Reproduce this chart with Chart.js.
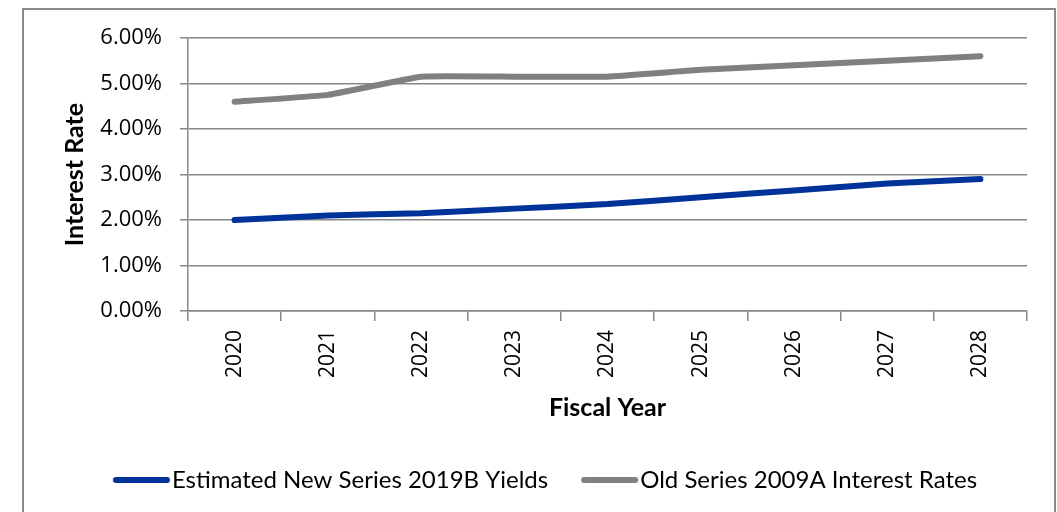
<!DOCTYPE html>
<html>
<head>
<meta charset="utf-8">
<script src="https://cdn.jsdelivr.net/npm/chart.js@4/dist/chart.umd.min.js"></script>
<style>
  html, body { margin: 0; padding: 0; background: #fff; }
  canvas { display: block; }
</style>
</head>
<body>
<canvas id="grafico" width="1057" height="512"></canvas>
<script>
'use strict';
// dados do grafico
const anos = ['2020', '2021', '2022', '2023', '2024', '2025', '2026', '2027', '2028'];
const novaSerie = [2.00, 2.10, 2.15, 2.25, 2.35, 2.50, 2.65, 2.80, 2.90];
const serieAntiga = [4.60, 4.75, 5.15, 5.15, 5.15, 5.30, 5.40, 5.50, 5.60];
const nomesSeries = ['Estimated New Series 2019B Yields', 'Old Series 2009A Interest Rates'];
const yTicks = [0, 1, 2, 3, 4, 5, 6];

const cinza = '#878787';
const azul = '#003399';
const cinzaLinha = '#808080';

// amostra da legenda: linha grossa encostada no texto
function amostra(cor) {
    const cv = document.createElement('canvas');
    cv.width = 94;
    cv.height = 10;
    const c = cv.getContext('2d');
    c.strokeStyle = cor;
    c.lineWidth = 6;
    c.lineCap = 'round';
    c.beginPath();
    c.moveTo(38, 5);
    c.lineTo(89, 5);
    c.stroke();
    return cv;
}

// moldura externa do grafico
const moldura = {
    id: 'moldura',
    beforeDraw(chart) {
        const c = chart.ctx;
        c.save();
        c.fillStyle = '#fff';
        c.fillRect(0, 0, chart.width, chart.height);
        c.strokeStyle = '#8a8a8a';
        c.lineWidth = 2;
        c.strokeRect(23, 9, 1032, 520);
        c.restore();
    }
};

Chart.defaults.color = '#000';

const ctx = document.getElementById('grafico').getContext('2d');
const myChart = new Chart(ctx, {
    type: 'line',
    plugins: [moldura],
    data: {
        labels: anos,
        datasets: [{
            label: nomesSeries[0],
            data: novaSerie,
            borderColor: azul,
            backgroundColor: azul,
            borderWidth: 6,
            borderCapStyle: 'round',
            pointRadius: 0,
            pointStyle: amostra(azul),
            tension: 0.1
        }, {
            label: nomesSeries[1],
            data: serieAntiga,
            borderColor: cinzaLinha,
            backgroundColor: cinzaLinha,
            borderWidth: 6,
            borderCapStyle: 'round',
            pointRadius: 0,
            pointStyle: amostra(cinzaLinha),
            tension: 0.1
        }]
    },
    options: {
        responsive: false,
        animation: false,
        layout: {
            padding: { left: 40, top: 38, right: 30, bottom: 10 }
        },
        scales: {
            x: {
                offset: true,
                grid: {
                    offset: true,
                    drawOnChartArea: false,
                    drawTicks: true,
                    tickLength: 10,
                    color: cinza,
                    lineWidth: 1.5
                },
                border: { color: cinza, width: 1.5 },
                ticks: {
                    minRotation: 90,
                    maxRotation: 90,
                    padding: 9,
                    font: { family: 'Open Sans', size: 21 }
                },
                title: {
                    display: true,
                    text: 'Fiscal Year',
                    font: { family: 'Lato', size: 25, weight: 'bold' },
                    padding: { top: 0, bottom: 35 }
                },
                afterFit: (axis) => { axis.height = 147; }
            },
            y: {
                min: 0,
                max: 6,
                afterBuildTicks: (axis) => { axis.ticks = yTicks.map(v => ({ value: v })); },
                grid: {
                    color: cinza,
                    lineWidth: 1.5,
                    tickLength: 8
                },
                border: { color: cinza, width: 1.5 },
                ticks: {
                    padding: 18,
                    font: { family: 'Open Sans', size: 22 },
                    callback: (v) => v.toFixed(2) + '%'
                },
                title: {
                    display: true,
                    text: 'Interest Rate',
                    font: { family: 'Lato', size: 25, weight: 'bold' },
                    padding: { top: 20, bottom: 0 }
                },
                afterFit: (axis) => { axis.width = 148; }
            }
        },
        plugins: {
            legend: {
                position: 'bottom',
                labels: {
                    usePointStyle: true,
                    pointStyleWidth: 70,
                    padding: 10,
                    font: { family: 'Lato', size: 24 }
                }
            },
            tooltip: { enabled: false }
        }
    }
});
</script>
</body>
</html>
